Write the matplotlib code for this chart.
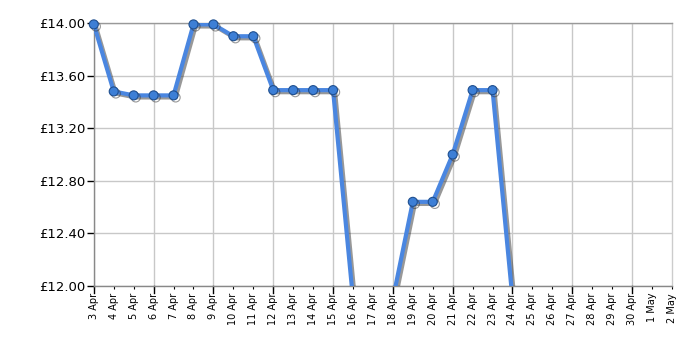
import numpy as np
import pandas as pd
import matplotlib
matplotlib.use("Agg")
import matplotlib.pyplot as plt
import matplotlib.patheffects as pe

# price history, 3 Apr - 2 May (values below £12 fall off the chart)
dates = pd.date_range("2024-04-03", "2024-05-02", freq="D")
prices = [13.99, 13.48, 13.45, 13.45, 13.45, 13.99, 13.99, 13.90, 13.90,
          13.49, 13.49, 13.49, 13.49, 11.90, 11.90, 11.90, 12.64, 12.64,
          13.00, 13.49, 13.49, 11.90,
          np.nan, np.nan, np.nan, np.nan, np.nan, np.nan, np.nan, np.nan]
tick_labels = [f"{d.day} {d.strftime('%b')}" for d in dates]
y_ticks = [12.0, 12.4, 12.8, 13.2, 13.6, 14.0]

fig = plt.figure(figsize=(7, 3.5), dpi=100)
ax = fig.add_axes([0.134, 0.183, 0.826, 0.751])

x = np.arange(len(dates))
p = np.array(prices, dtype=float)
shadow = [pe.SimpleLineShadow(offset=(1.5, -1.5), shadow_color="#333333", alpha=0.5),
          pe.Normal()]
ax.plot(x, p, color="#4a86e0", lw=3, path_effects=shadow, zorder=3)

# markers only where the price is on the chart, not clipped at the frame
on = np.isfinite(p) & (p >= 12.0)
ax.plot(x[on], p[on], ls="none", marker="o", ms=6.5,
        markerfacecolor="#3d7fd6", markeredgecolor="#1f4f8f", markeredgewidth=0.8,
        path_effects=shadow, zorder=4, clip_on=False)

ax.set_xlim(0, len(dates) - 1)
ax.set_ylim(12.0, 14.0)

ax.set_yticks(y_ticks)
ax.set_yticklabels([f"£{v:.2f}" for v in y_ticks], fontsize=9.5)
ax.set_xticks(x)
ax.set_xticklabels(tick_labels, rotation=90, fontsize=7)
ax.tick_params(axis="x", length=2, width=0.8, pad=3)
ax.tick_params(axis="y", length=5, width=1, pad=1, colors="black")

for i in x[::3]:
    ax.axvline(i, color="#c8c8c8", lw=1, zorder=1)
    ax.plot([i, i], [0, -0.025], transform=ax.get_xaxis_transform(), color="black",
            lw=1, clip_on=False)
for v in y_ticks:
    ax.axhline(v, color="#c8c8c8", lw=1, zorder=1)

ax.spines["left"].set_color("#888888")
ax.spines["bottom"].set_color("#888888")
ax.spines["top"].set_color("#999999")
ax.spines["right"].set_color("#cccccc")
for s in ax.spines.values():
    s.set_linewidth(1)

fig.savefig("out.png", dpi=100)
